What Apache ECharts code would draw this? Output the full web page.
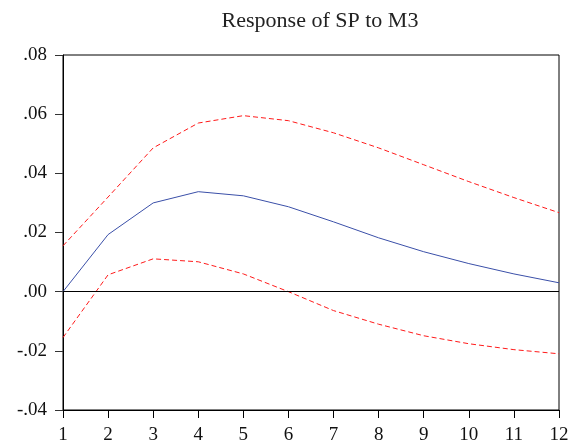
<!DOCTYPE html>
<html><head><meta charset="utf-8">
<script src="https://cdn.jsdelivr.net/npm/echarts@6/dist/echarts.min.js"></script>
<style>html,body{margin:0;padding:0;background:#fff}#c{width:574px;height:445px}</style>
</head><body><div id="c"></div>
<script>
const periods = ['1','2','3','4','5','6','7','8','9','10','11','12'];
const response = [0.0, 0.0193, 0.0300, 0.0338, 0.0324, 0.0287, 0.0236, 0.0182, 0.0135, 0.0095, 0.0060, 0.0030];
const upperBand = [0.0155, 0.0320, 0.0486, 0.0570, 0.0595, 0.0578, 0.0537, 0.0486, 0.0429, 0.0372, 0.0318, 0.0267];
const lowerBand = [-0.0155, 0.0057, 0.0111, 0.0101, 0.0060, 0.0000, -0.0064, -0.0110, -0.0149, -0.0176, -0.0196, -0.0210];
const yTicks = [-0.04, -0.02, 0.00, 0.02, 0.04, 0.06, 0.08];

const chart = echarts.init(document.getElementById('c'), null, {renderer: 'canvas'});
const font = '"Liberation Serif", "DejaVu Serif", serif';
const fmt = v => { const s = Math.abs(v).toFixed(2).replace(/^0/, ''); return (v < -1e-9 ? '-' : '') + s; };
chart.setOption({
  animation: false,
  title: {text: 'Response of SP to M3', left: 315, top: 5, textAlign: 'center',
    textStyle: {fontFamily: font, fontSize: 22, fontWeight: 'normal', color: '#222'}},
  grid: {left: 63, right: 15, top: 55, bottom: 34, show: true, borderColor: '#000', borderWidth: 1, backgroundColor: 'transparent'},
  xAxis: {type: 'category', data: periods, boundaryGap: false,
    axisLine: {onZero: false, lineStyle: {color: '#000', width: 1}},
    axisTick: {show: true, inside: false, length: 8, lineStyle: {color: '#000'}, alignWithLabel: true},
    axisLabel: {fontFamily: font, fontSize: 19, color: '#111', margin: 16, interval: 0},
    splitLine: {show: false}},
  yAxis: {type: 'value', min: yTicks[0], max: yTicks[yTicks.length-1], interval: 0.02,
    axisLine: {show: true, lineStyle: {color: '#000'}},
    axisTick: {show: true, inside: false, length: 8, lineStyle: {color: '#333'}},
    axisLabel: {fontFamily: font, fontSize: 19, color: '#111', margin: 16, formatter: fmt},
    splitLine: {show: false}},
  series: [
    {type: 'line', data: response, symbol: 'none', lineStyle: {color: '#3a4fa8', width: 1},
      markLine: {silent: true, symbol: 'none', label: {show: false},
        lineStyle: {color: '#000', width: 1, type: 'solid'}, data: [{yAxis: 0}]}},
    {type: 'line', data: upperBand, symbol: 'none', lineStyle: {color: '#ff1a1a', width: 1, type: [5, 3]}},
    {type: 'line', data: lowerBand, symbol: 'none', lineStyle: {color: '#ff1a1a', width: 1, type: [5, 3]}}
  ]
});
</script></body></html>
